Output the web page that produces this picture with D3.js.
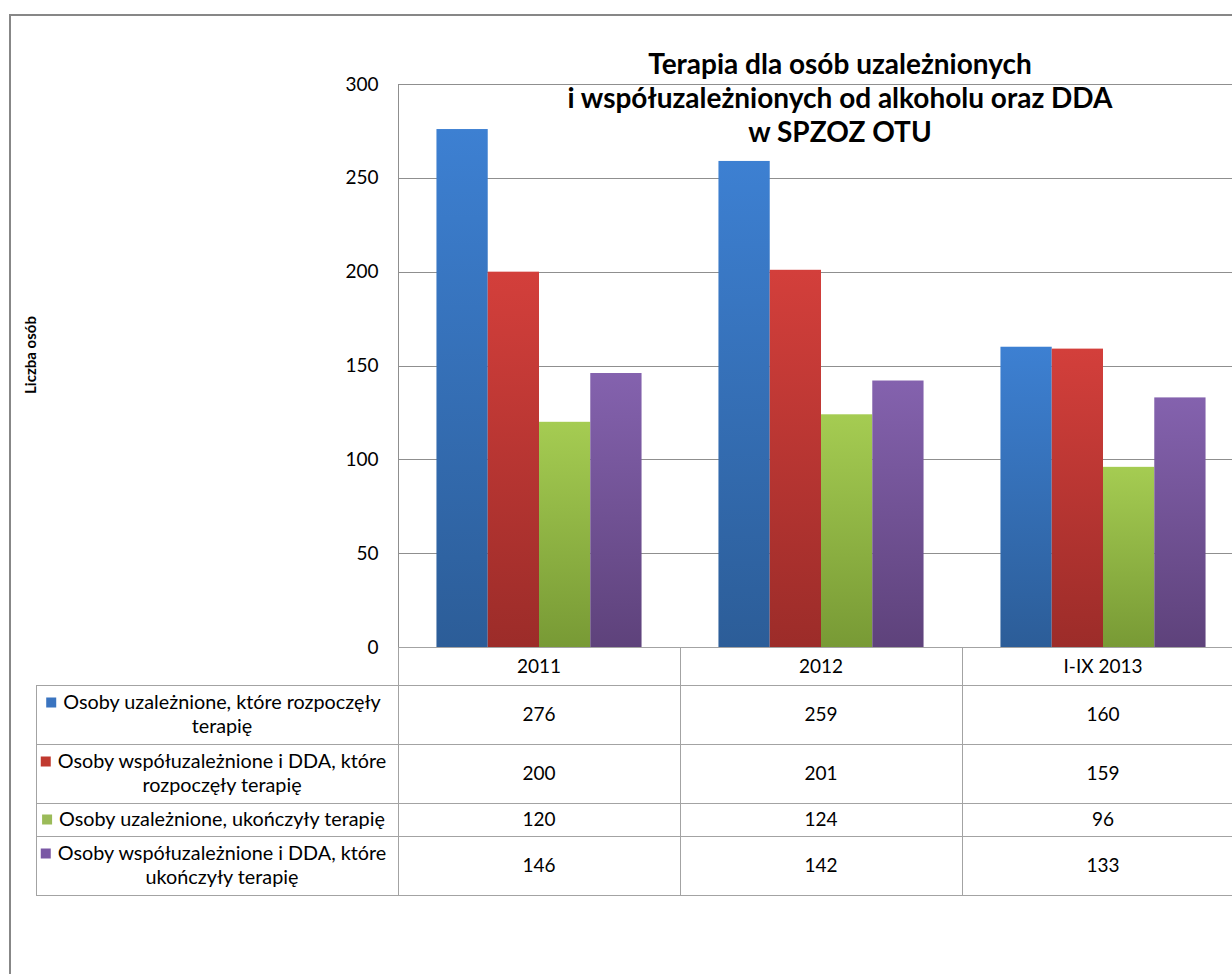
<!DOCTYPE html>
<html>
<head>
<meta charset="utf-8">
<script src="https://cdn.jsdelivr.net/npm/d3@7"></script>
<style>
  body { margin: 0; background: #fff; }
  svg text { font-family: Lato, "Open Sans", sans-serif; fill: #000; }
</style>
</head>
<body>
<script>
// data
var categories = ["2011", "2012", "I-IX 2013"];
var seriesNames = [
  ["Osoby uzależnione, które rozpoczęły", "terapię"],
  ["Osoby współuzależnione i DDA, które", "rozpoczęły terapię"],
  ["Osoby uzależnione, ukończyły terapię"],
  ["Osoby współuzależnione i DDA, które", "ukończyły terapię"]
];
var startedAddicted = [276, 259, 160];
var startedCoDDA = [200, 201, 159];
var finishedAddicted = [120, 124, 96];
var finishedCoDDA = [146, 142, 133];
var yTicks = [0, 50, 100, 150, 200, 250, 300];
var titleLines = ["Terapia dla osób uzależnionych", "i współuzależnionych od alkoholu oraz DDA", "w SPZOZ OTU"];

var seriesValues = [startedAddicted, startedCoDDA, finishedAddicted, finishedCoDDA];
// top / bottom colours for the gradient bars, and the legend square colour
var barColors = [
  ["#3d80d2", "#2c5d98", "#3a74c0"],
  ["#d33f3b", "#9c2c29", "#c0392f"],
  ["#a5cc52", "#789a35", "#9bbb59"],
  ["#8462ae", "#5e427b", "#7a58a5"]
];

var W = 1232, H = 974;
var plotLeft = 398, plotTop = 84, plotBottom = 647;
var band = 282;
var gridColor = "#8f8f8f", tableColor = "#a3a3a3";
var tableFont = "19px", legendFont = "19.8px";

var svg = d3.select("body").append("svg")
    .attr("width", W)
    .attr("height", H);

var defs = svg.append("defs");
barColors.forEach(function(c, i) {
  var g = defs.append("linearGradient")
      .attr("id", "grad" + i)
      .attr("x1", 0).attr("y1", 0).attr("x2", 0).attr("y2", 1);
  g.append("stop").attr("offset", "0%").attr("stop-color", c[0]);
  g.append("stop").attr("offset", "100%").attr("stop-color", c[1]);
});

// outer chart border
svg.append("rect")
    .attr("x", 10).attr("y", 15)
    .attr("width", W + 20).attr("height", H + 20)
    .attr("fill", "none")
    .attr("stroke", "#878787")
    .attr("stroke-width", 2);

var x0 = d3.scaleBand()
    .domain(categories)
    .range([plotLeft, plotLeft + band * categories.length]);

var x1 = d3.scaleBand()
    .domain(d3.range(seriesValues.length))
    .range([0, x0.bandwidth()])
    .paddingInner(0)
    .paddingOuter(0.75);

var y = d3.scaleLinear()
    .domain([0, 300])
    .range([plotBottom, plotTop]);

// gridlines
svg.append("g")
  .selectAll("line")
  .data(yTicks)
  .join("line")
    .attr("x1", plotLeft).attr("x2", W)
    .attr("y1", function(d) { return Math.round(y(d)) + 0.5; })
    .attr("y2", function(d) { return Math.round(y(d)) + 0.5; })
    .attr("stroke", gridColor)
    .attr("stroke-width", 1);

// y axis
var yAxis = svg.append("g")
    .attr("transform", "translate(" + (plotLeft + 0.5) + ",0)")
    .call(d3.axisLeft(y).tickValues(yTicks).tickSize(0).tickPadding(20));
yAxis.select(".domain").remove();
yAxis.selectAll("text")
    .style("font-size", tableFont)
    .attr("dy", "0.32em");

svg.append("line")
    .attr("x1", plotLeft + 0.5).attr("x2", plotLeft + 0.5)
    .attr("y1", plotTop).attr("y2", plotBottom)
    .attr("stroke", gridColor);

// bars
var groups = svg.append("g")
  .selectAll("g")
  .data(seriesValues)
  .join("g")
    .attr("fill", function(d, i) { return "url(#grad" + i + ")"; });

groups.selectAll("rect")
  .data(function(d, i) { return d.map(function(v, j) { return { s: i, c: categories[j], v: v }; }); })
  .join("rect")
    .attr("x", function(d) { return x0(d.c) + x1(d.s); })
    .attr("y", function(d) { return y(d.v); })
    .attr("width", x1.bandwidth())
    .attr("height", function(d) { return plotBottom - y(d.v); });

// title
svg.append("text")
    .attr("x", 840)
    .attr("y", 74)
    .attr("text-anchor", "middle")
    .style("font-size", "28px")
    .style("font-weight", "bold")
  .selectAll("tspan")
  .data(titleLines)
  .join("tspan")
    .attr("x", 840)
    .attr("dy", function(d, i) { return i ? 34 : 0; })
    .text(function(d) { return d; });

// y axis title
svg.append("text")
    .attr("transform", "translate(36,355) rotate(-90)")
    .attr("text-anchor", "middle")
    .style("font-size", "15px")
    .style("font-weight", "bold")
    .text("Liczba osób");

// data table
var rowEdges = [647, 685, 744, 803, 836, 895];
var tableLeft = 36;
var tableRight = plotLeft + band * categories.length;

var table = svg.append("g").attr("stroke", tableColor).attr("stroke-width", 1);
rowEdges.slice(1).forEach(function(ry) {
  table.append("line")
      .attr("x1", tableLeft).attr("x2", tableRight)
      .attr("y1", ry + 0.5).attr("y2", ry + 0.5);
});
table.append("line")
    .attr("x1", plotLeft).attr("x2", tableRight)
    .attr("y1", plotBottom + 0.5).attr("y2", plotBottom + 0.5);
table.append("line")
    .attr("x1", tableLeft + 0.5).attr("x2", tableLeft + 0.5)
    .attr("y1", rowEdges[1]).attr("y2", rowEdges[5]);
categories.forEach(function(c) {
  table.append("line")
      .attr("x1", x0(c) + 0.5).attr("x2", x0(c) + 0.5)
      .attr("y1", plotBottom).attr("y2", rowEdges[5]);
});

// header
svg.append("g")
  .selectAll("text")
  .data(categories)
  .join("text")
    .attr("x", function(d) { return x0(d) + band / 2; })
    .attr("y", (rowEdges[0] + rowEdges[1]) / 2)
    .attr("dy", "0.35em")
    .attr("text-anchor", "middle")
    .style("font-size", tableFont)
    .text(function(d) { return d; });

// values and legend cells
seriesValues.forEach(function(vals, i) {
  var cy = (rowEdges[i + 1] + rowEdges[i + 2]) / 2;
  vals.forEach(function(v, j) {
    svg.append("text")
        .attr("x", x0(categories[j]) + band / 2)
        .attr("y", cy)
        .attr("dy", "0.35em")
        .attr("text-anchor", "middle")
        .style("font-size", tableFont)
        .text(v);
  });

  var lines = seriesNames[i];
  var cx = (tableLeft + plotLeft) / 2 + 5;
  var lh = 24;
  var y0 = cy - (lines.length - 1) * lh / 2;
  var t = svg.append("text")
      .attr("text-anchor", "middle")
      .style("font-size", legendFont);
  lines.forEach(function(l, k) {
    t.append("tspan")
        .attr("x", cx)
        .attr("y", y0 + k * lh)
        .attr("dy", "0.35em")
        .text(l);
  });
  var firstW = t.select("tspan").node().getComputedTextLength();
  svg.append("rect")
      .attr("x", cx - firstW / 2 - 17)
      .attr("y", y0 - 5)
      .attr("width", 10).attr("height", 10)
      .attr("fill", barColors[i][2]);
});
</script>
</body>
</html>
